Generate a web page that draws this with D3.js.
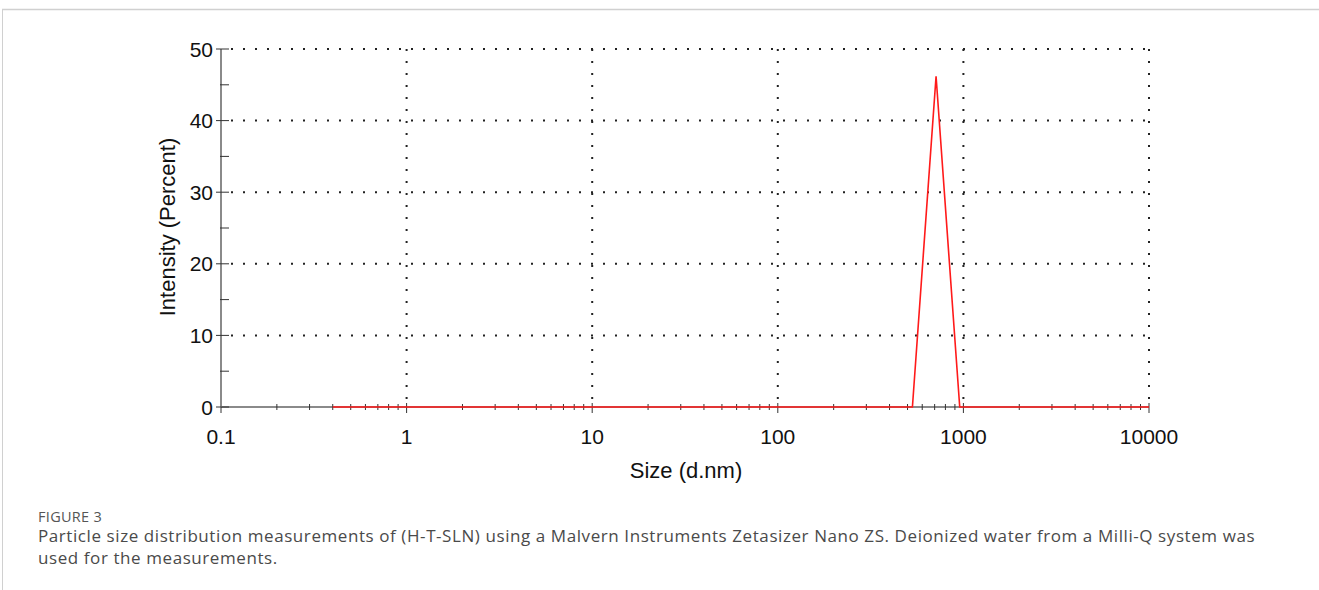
<!DOCTYPE html>
<html>
<head>
<meta charset="utf-8">
<script src="https://cdn.jsdelivr.net/npm/d3@7"></script>
<style>
  body { margin: 0; background: #fff; }
  svg { display: block; }
</style>
</head>
<body>
<div id="chart"></div>
<script>
// size distribution
var sizes = [0.4, 531.2, 712.4, 955.4, 10000];
var intensity = [0, 0, 46.2, 0, 0];

var xTicks = [0.1, 1, 10, 100, 1000, 10000];
var xTickLabels = ["0.1", "1", "10", "100", "1000", "10000"];
var yTicks = [0, 10, 20, 30, 40, 50];
var yMinorTicks = [5, 15, 25, 35, 45];

var svgWidth = 1319;
var svgHeight = 590;

var margin = { top: 49, left: 221 };
var width = 928;
var height = 358;

var svg = d3.select("#chart")
    .append("svg")
    .attr("width", svgWidth)
    .attr("height", svgHeight);

// panel frame
svg.append("line")
    .attr("x1", 2).attr("x2", svgWidth)
    .attr("y1", 9.5).attr("y2", 9.5)
    .attr("stroke", "#d0d0d0").attr("stroke-width", 1.5);
svg.append("line")
    .attr("x1", 2.5).attr("x2", 2.5)
    .attr("y1", 9).attr("y2", svgHeight)
    .attr("stroke", "#d0d0d0").attr("stroke-width", 1);

var chartGroup = svg.append("g")
    .attr("transform", `translate(${margin.left}, ${margin.top})`);

var xScale = d3.scaleLog().domain([0.1, 10000]).range([0, width]);
var yScale = d3.scaleLinear().domain([0, 50]).range([height, 0]);

// minor x ticks (2..9 of each decade)
var xMinor = [];
for (var d = 0.1; d < 10000; d *= 10) {
    for (var k = 2; k <= 9; k++) xMinor.push(+(d * k).toPrecision(3));
}

// dotted grid
chartGroup.selectAll(".hgrid")
    .data(yTicks.filter(function(v) { return v > 0; }))
    .enter()
    .append("line")
    .attr("class", "hgrid")
    .attr("x1", 0).attr("x2", width)
    .attr("y1", function(v) { return yScale(v); })
    .attr("y2", function(v) { return yScale(v); })
    .attr("stroke", "#222").attr("stroke-width", 2)
    .attr("stroke-dasharray", "2,10")
    .attr("stroke-dashoffset", -10);

chartGroup.selectAll(".vgrid")
    .data(xTicks.filter(function(v) { return v > 0.1; }))
    .enter()
    .append("line")
    .attr("class", "vgrid")
    .attr("x1", function(v) { return xScale(v); })
    .attr("x2", function(v) { return xScale(v); })
    .attr("y1", 0).attr("y2", height)
    .attr("stroke", "#222").attr("stroke-width", 2)
    .attr("stroke-dasharray", "2,10");

// x axis line
chartGroup.append("line")
    .attr("x1", 0).attr("x2", width)
    .attr("y1", height).attr("y2", height)
    .attr("stroke", "#8a8a8a").attr("stroke-width", 2);

chartGroup.selectAll(".xminor")
    .data(xMinor)
    .enter()
    .append("line")
    .attr("x1", function(v) { return xScale(v); })
    .attr("x2", function(v) { return xScale(v); })
    .attr("y1", height - 3).attr("y2", height + 3)
    .attr("stroke", "#333").attr("stroke-width", 1);

chartGroup.selectAll(".xmajor")
    .data(xTicks)
    .enter()
    .append("line")
    .attr("x1", function(v) { return xScale(v); })
    .attr("x2", function(v) { return xScale(v); })
    .attr("y1", height - 4).attr("y2", height + 6)
    .attr("stroke", "#333").attr("stroke-width", 1);

chartGroup.selectAll(".xlabel")
    .data(xTicks)
    .enter()
    .append("text")
    .attr("x", function(v) { return xScale(v); })
    .attr("y", height + 37)
    .attr("text-anchor", "middle")
    .style("font-family", "Liberation Sans, Arial, sans-serif")
    .style("font-size", "21px")
    .attr("fill", "#111")
    .text(function(v, i) { return xTickLabels[i]; });

// y axis line
chartGroup.append("line")
    .attr("x1", 0).attr("x2", 0)
    .attr("y1", 0).attr("y2", height)
    .attr("stroke", "#8a8a8a").attr("stroke-width", 2);

chartGroup.selectAll(".yminor")
    .data(yMinorTicks)
    .enter()
    .append("line")
    .attr("x1", -1).attr("x2", 8)
    .attr("y1", function(v) { return yScale(v); })
    .attr("y2", function(v) { return yScale(v); })
    .attr("stroke", "#333").attr("stroke-width", 1);

chartGroup.selectAll(".ymajor")
    .data(yTicks)
    .enter()
    .append("line")
    .attr("x1", -5).attr("x2", 8)
    .attr("y1", function(v) { return yScale(v); })
    .attr("y2", function(v) { return yScale(v); })
    .attr("stroke", "#333").attr("stroke-width", 1);

chartGroup.selectAll(".ylabel")
    .data(yTicks)
    .enter()
    .append("text")
    .attr("x", -8)
    .attr("y", function(v) { return yScale(v); })
    .attr("dy", "0.36em")
    .attr("text-anchor", "end")
    .style("font-family", "Liberation Sans, Arial, sans-serif")
    .style("font-size", "21px")
    .attr("fill", "#111")
    .text(function(v) { return v; });

// distribution line
var points = sizes.map(function(s, i) { return [s, intensity[i]]; });
var line = d3.line()
    .x(function(p) { return xScale(p[0]); })
    .y(function(p) { return yScale(p[1]); });

chartGroup.append("path")
    .datum(points)
    .attr("d", line)
    .attr("fill", "none")
    .attr("stroke", "#ff1a1a")
    .attr("stroke-width", 1.6);

// axis titles
chartGroup.append("text")
    .attr("x", width / 2 + 1)
    .attr("y", height + 71)
    .attr("text-anchor", "middle")
    .style("font-family", "Liberation Sans, Arial, sans-serif")
    .style("font-size", "22px")
    .attr("fill", "#111")
    .text("Size (d.nm)");

chartGroup.append("text")
    .attr("transform", "rotate(-90)")
    .attr("x", -height / 2 + 1)
    .attr("y", -46)
    .attr("text-anchor", "middle")
    .style("font-family", "Liberation Sans, Arial, sans-serif")
    .style("font-size", "22px")
    .attr("fill", "#111")
    .text("Intensity (Percent)");

// caption
svg.append("text")
    .attr("x", 38).attr("y", 522)
    .style("font-family", "Open Sans, sans-serif")
    .style("font-size", "14.5px")
    .style("letter-spacing", "0.3px")
    .attr("fill", "#555")
    .text("FIGURE 3");

svg.append("text")
    .attr("x", 38).attr("y", 542)
    .style("font-family", "Open Sans, sans-serif")
    .style("font-size", "17px")
    .style("letter-spacing", "0.58px")
    .attr("fill", "#4a4a4a")
    .text("Particle size distribution measurements of (H-T-SLN) using a Malvern Instruments Zetasizer Nano ZS. Deionized water from a Milli-Q system was");

svg.append("text")
    .attr("x", 38).attr("y", 564)
    .style("font-family", "Open Sans, sans-serif")
    .style("font-size", "17px")
    .style("letter-spacing", "0.58px")
    .attr("fill", "#4a4a4a")
    .text("used for the measurements.");
</script>
</body>
</html>
